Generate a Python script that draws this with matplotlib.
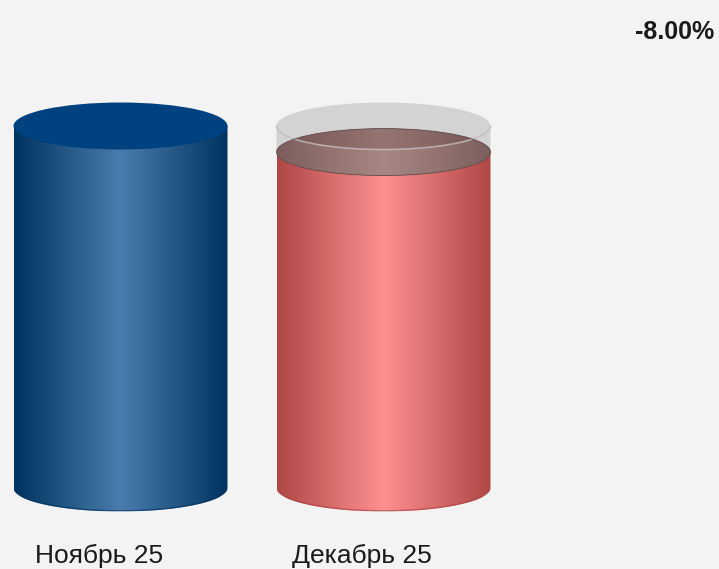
# -*- coding: utf-8 -*-
import numpy as np
import matplotlib
matplotlib.use('Agg')
from matplotlib import pyplot as plt
from matplotlib.colors import LinearSegmentedColormap
from matplotlib.patches import Ellipse, Polygon

labels = ['Ноябрь 25', 'Декабрь 25']
values = [100, 92.8]
change = '-8.00%'

# colours: edge, centre, edge
blue_body = ['#00335f', '#4a7dad', '#00335f']
red_body = ['#ae4745', '#ff9090', '#ae4745']
red_top = ['#7c5f5d', '#a88885', '#7c5f5d']
blue_top = '#00417f'
bg = '#f3f3f3'

W, H = 719, 569
base_px, top_px = 488.0, 126.0
unit = (base_px - top_px) / values[0]   # px per value
step = 263.0                            # px between cylinders
x0 = 120.5
hw = 107.0 / step                       # half width in x units
hh = 23.5 / unit                        # ellipse half height in y units

fig = plt.figure(figsize=(W / 100, H / 100), dpi=100, facecolor=bg)
ax = fig.add_axes([0, 0, 1, 1])
ax.set_xlim(-x0 / step, (W - x0) / step)
ax.set_ylim(-(H - base_px) / unit, base_px / unit)
ax.axis('off')


def hgrad(ax, x, val, cols, clip, z):
    cm = LinearSegmentedColormap.from_list('c', cols)
    g = np.linspace(0, 1, 256).reshape(1, -1)
    im = ax.imshow(g, cmap=cm, extent=[x - hw, x + hw, -hh, val + hh],
                   aspect='auto', zorder=z, interpolation='bilinear')
    im.set_clip_path(clip)


def body_path(x, val):
    # side wall with rounded bottom
    t = np.linspace(np.pi, 2 * np.pi, 80)
    xs = x + hw * np.cos(t)
    ys = hh * np.sin(t)
    pts = np.vstack([np.column_stack([xs, ys]), [x + hw, val], [x - hw, val]])
    return Polygon(pts, closed=True, transform=ax.transData, fc='none', ec='none')


t = np.linspace(np.pi, 2 * np.pi, 80)
mid = t[10:-10]
for i, col in enumerate(['#00305c', '#a83f3f']):
    p = body_path(i, values[i])
    ax.add_patch(p)
    hgrad(ax, i, values[i], [blue_body, red_body][i], p, 2)
    # darker rim along the bottom
    ax.plot(i + hw * np.cos(mid), hh * np.sin(mid) + 0.2, color=col, lw=1.0, alpha=0.6, zorder=3)

ax.add_patch(Ellipse((0, values[0]), 2 * hw, 2 * hh, fc=blue_top, ec='none', zorder=3))

# second cylinder top
e = Ellipse((1, values[1]), 2 * hw, 2 * hh, fc='none', ec='none', transform=ax.transData)
ax.add_patch(e)
hgrad(ax, 1, values[1], red_top, e, 3)

# ghost of the previous level
wall = np.vstack([
    np.column_stack([1 + hw * np.cos(t), values[1] + hh * np.sin(t)]),
    [1 + hw, values[0]],
    np.column_stack([1 + hw * np.cos(t[::-1]), values[0] + hh * np.sin(t[::-1])]),
    [1 - hw, values[1]],
])
ghost_wall = Polygon(wall, closed=True, fc='#a8a8a8', ec='none', alpha=0.42, zorder=2.5)
ax.add_patch(ghost_wall)
ax.add_patch(Ellipse((1, values[0]), 2 * hw, 2 * hh, fc='#b4b4b4', ec='none',
                     alpha=0.5, zorder=2.6))

# where the ghost top lies behind the red top it looks darker
shade = Ellipse((1, values[0]), 2 * hw, 2 * hh, fc='#5a3030', ec='none', alpha=0.22, zorder=4)
ax.add_patch(shade)
shade.set_clip_path(e)
ax.plot(1 + hw * np.cos(t), values[0] + hh * np.sin(t), color='#c4bcba', lw=1.2, alpha=0.8, zorder=4.2)
ax.add_patch(Ellipse((1, values[1]), 2 * hw, 2 * hh, fc='none', ec='#5e4a4a', lw=0.6, zorder=4.5))

font = ['Liberation Sans', 'DejaVu Sans']
label_x = [99, 362]
for i, lab in enumerate(labels):
    ax.text((label_x[i] - x0) / step, -(555.5 - base_px) / unit, lab, ha='center', va='center',
            fontsize=19, color='#1a1a1a', family=font)
ax.text((714 - x0) / step, (base_px - 32) / unit, change, ha='right', va='center',
        fontsize=18, fontweight='bold', color='#1a1a1a', family=font)

fig.savefig('out.png', dpi=100, facecolor=bg)
